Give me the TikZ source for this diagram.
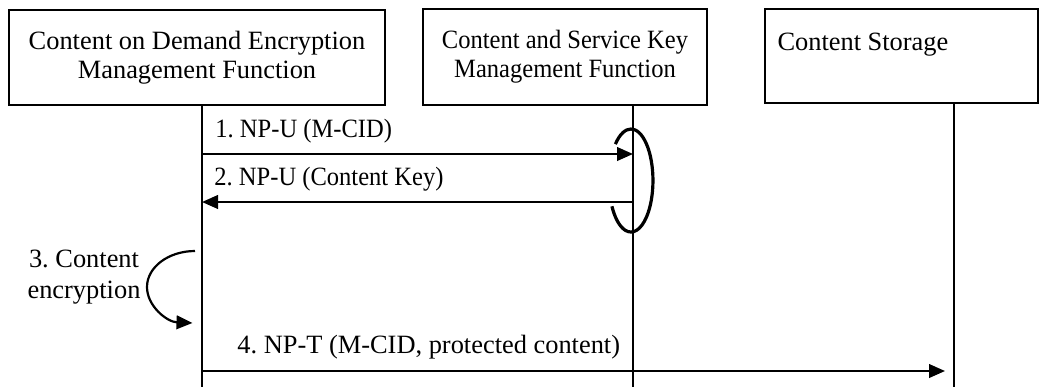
\documentclass[tikz,border=0pt]{standalone}
\usepackage{fontspec}
\setmainfont{Liberation Serif}
\newfontfamily\narrowserif[FakeStretch=0.93]{Liberation Serif}
\usetikzlibrary{arrows.meta}
\frenchspacing

\begin{document}
\begin{tikzpicture}[x=0.5pt,y=-0.5pt]
\tikzset{
block/.style={rectangle,draw=black,line width=1pt,align=center,inner sep=0pt,
font=\fontsize{13.2}{14.6}\selectfont},
narrowblock/.style={block,font=\narrowserif\fontsize{13.2}{14.6}\selectfont},
lifeline/.style={line width=1pt},
myarrow/.style={-{Triangle[length=8pt,width=6.8pt]}, line width=1.1pt},
myloop/.style={line width=1.6pt},
mylabel/.style={anchor=base west,inner sep=0pt,font=\fontsize{13.2}{14.6}\selectfont},
narrowlabel/.style={mylabel,font=\narrowserif\fontsize{13.2}{14.6}\selectfont},
}
\useasboundingbox (0,0) rectangle (1044,387);

% entities
\node [block, minimum width=188pt, minimum height=47.5pt] (codemf) at (197,57.5) {Content on Demand Encryption\\Management Function};
\node [narrowblock, minimum width=142pt, minimum height=48pt] (cskmf) at (565,57) {Content and Service Key\\Management Function};
\node [block, minimum width=136.5pt, minimum height=47pt, text width=124pt, align=flush left] (storage) at (901.5,56) {Content Storage\\\phantom{M}};

% lifelines
\coordinate (codemfend) at (202,387);
\coordinate (cskmfend) at (633,387);
\coordinate (storageend) at (954,387);
\draw[lifeline] (codemf.south -| codemfend) -- (codemfend);
\draw[lifeline] (cskmf.south -| cskmfend) -- (cskmfend);
\draw[lifeline] (storage.south -| storageend) -- (storageend);

% messages
\coordinate (m1a) at (202,154);
\coordinate (m1b) at (633,154);
\coordinate (m2a) at (633,202);
\coordinate (m2b) at (202,202);
\coordinate (m4a) at (202,371);
\coordinate (m4b) at (945,371);
\draw[myarrow] (m1a) -- (m1b);
\draw[myarrow] (m2a) -- (m2b);
\draw[myarrow] (m4a) -- (m4b);
\node [narrowlabel] (msg1) at (215,137) {1. NP-U (M-CID)};
\node [narrowlabel] (msg2) at (214,185) {2. NP-U (Content Key)};
\node [mylabel] (msg4) at (237,353) {4. NP-T (M-CID, protected content)};

% key handling loop
\coordinate (keyloop) at (615.4,144.1);
\draw[myloop] (keyloop) arc[start angle=135, end angle=-150, x radius=11pt, y radius=25.75pt];

% encryption step
\coordinate (enc) at (195,251);
\draw[myarrow] (enc) arc[start angle=90, end angle=267, x radius=24pt, y radius=18pt];
\node [align=center, inner sep=0pt, font=\fontsize{13.2}{15.5}\selectfont] (enclabel) at (84,277) {3. Content\\encryption};
\end{tikzpicture}
\end{document}
